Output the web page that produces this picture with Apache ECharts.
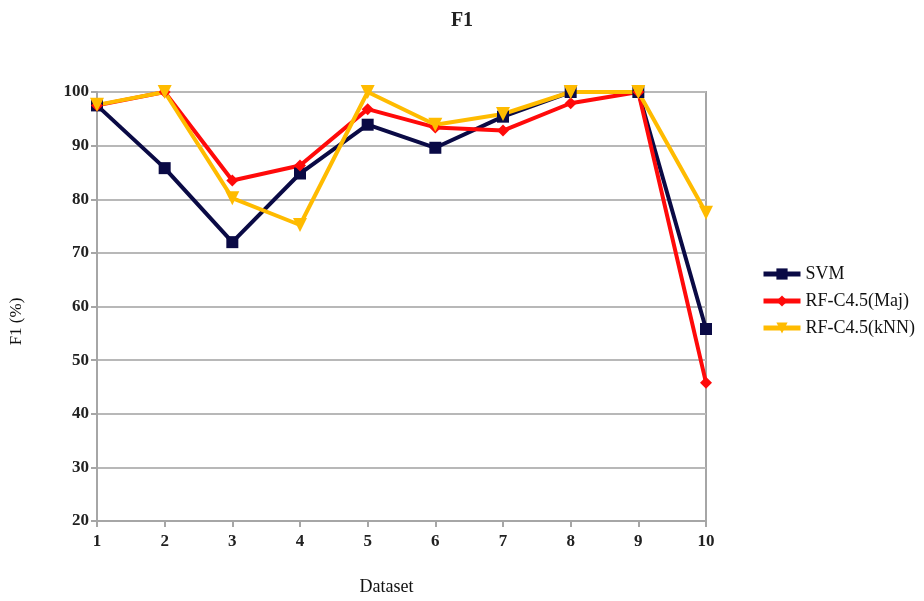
<!DOCTYPE html>
<html><head><meta charset="utf-8">
<script src="https://cdn.jsdelivr.net/npm/echarts@6/dist/echarts.min.js"></script>
<style>html,body{margin:0;padding:0;background:#fff}#c{width:924px;height:601px}</style>
</head><body><div id="c"></div>
<script>
const categories = ['1','2','3','4','5','6','7','8','9','10'];
const svm = [97.5, 85.8, 72.0, 84.8, 93.9, 89.6, 95.4, 100, 100, 55.8];
const rfMaj = [97.5, 100, 83.5, 86.3, 96.8, 93.4, 92.8, 97.9, 100, 45.8];
const rfKnn = [97.6, 100, 80.2, 75.2, 100, 93.9, 95.9, 100, 100, 77.5];
const seriesNames = ['SVM', 'RF-C4.5(Maj)', 'RF-C4.5(kNN)'];

const font = 'Liberation Serif, Times New Roman, serif';
const chart = echarts.init(document.getElementById('c'));
function mk(name, data, color, symbol, size) {
  return {
    name, type: 'line', data, symbol, symbolSize: size,
    lineStyle: { color, width: 4 }, itemStyle: { color },
    emphasis: { disabled: true }
  };
}
chart.setOption({
  animation: false,
  backgroundColor: '#fff',
  title: { text: 'F1', left: 'center', top: 6,
    textStyle: { fontFamily: font, fontSize: 20, fontWeight: 'bold', color: '#222' } },
  legend: {
    orient: 'vertical', left: 761, top: 265, padding: 0, itemGap: 9, itemWidth: 37, itemHeight: 14,
    textStyle: { fontFamily: font, fontSize: 18, color: '#111' },
    lineStyle: { width: 5 },
    data: seriesNames
  },
  grid: { left: 96, right: 218, top: 92, bottom: 78, show: true, borderColor: '#a6a6a6', borderWidth: 2, backgroundColor: 'transparent' },
  xAxis: {
    type: 'category', data: categories, boundaryGap: false,
    name: 'Dataset', nameLocation: 'middle', nameGap: 57,
    nameTextStyle: { fontFamily: font, fontSize: 18, color: '#111', padding: [0, 30, 0, 0] },
    axisLine: { lineStyle: { color: '#a6a6a6', width: 2 } },
    axisTick: { show: true, alignWithLabel: true, length: 6, lineStyle: { color: '#a6a6a6', width: 2 } },
    axisLabel: { fontFamily: font, fontSize: 17, fontWeight: 'bold', color: '#222', margin: 12 },
    splitLine: { show: false }
  },
  yAxis: {
    type: 'value', min: 20, max: 100, interval: 10,
    name: 'F1 (%)', nameLocation: 'middle', nameGap: 72, nameRotate: 90,
    nameTextStyle: { fontFamily: font, fontSize: 17, color: '#111', padding: [0, 30, 0, 0] },
    axisLine: { show: true, lineStyle: { color: '#a6a6a6', width: 2 } },
    axisTick: { show: true, length: 6, lineStyle: { color: '#a6a6a6', width: 2 } },
    axisLabel: { fontFamily: font, fontSize: 17, fontWeight: 'bold', color: '#222', margin: 8 },
    splitLine: { show: true, lineStyle: { color: '#b8b8b8', width: 2 } }
  },
  series: [
    mk(seriesNames[0], svm, '#0a0a45', 'rect', 12),
    mk(seriesNames[1], rfMaj, '#ff0a0a', 'diamond', 12),
    mk(seriesNames[2], rfKnn, '#ffbb00', 'path://M0,0 L10,0 L5,9 Z', 14)
  ]
});
</script></body></html>
